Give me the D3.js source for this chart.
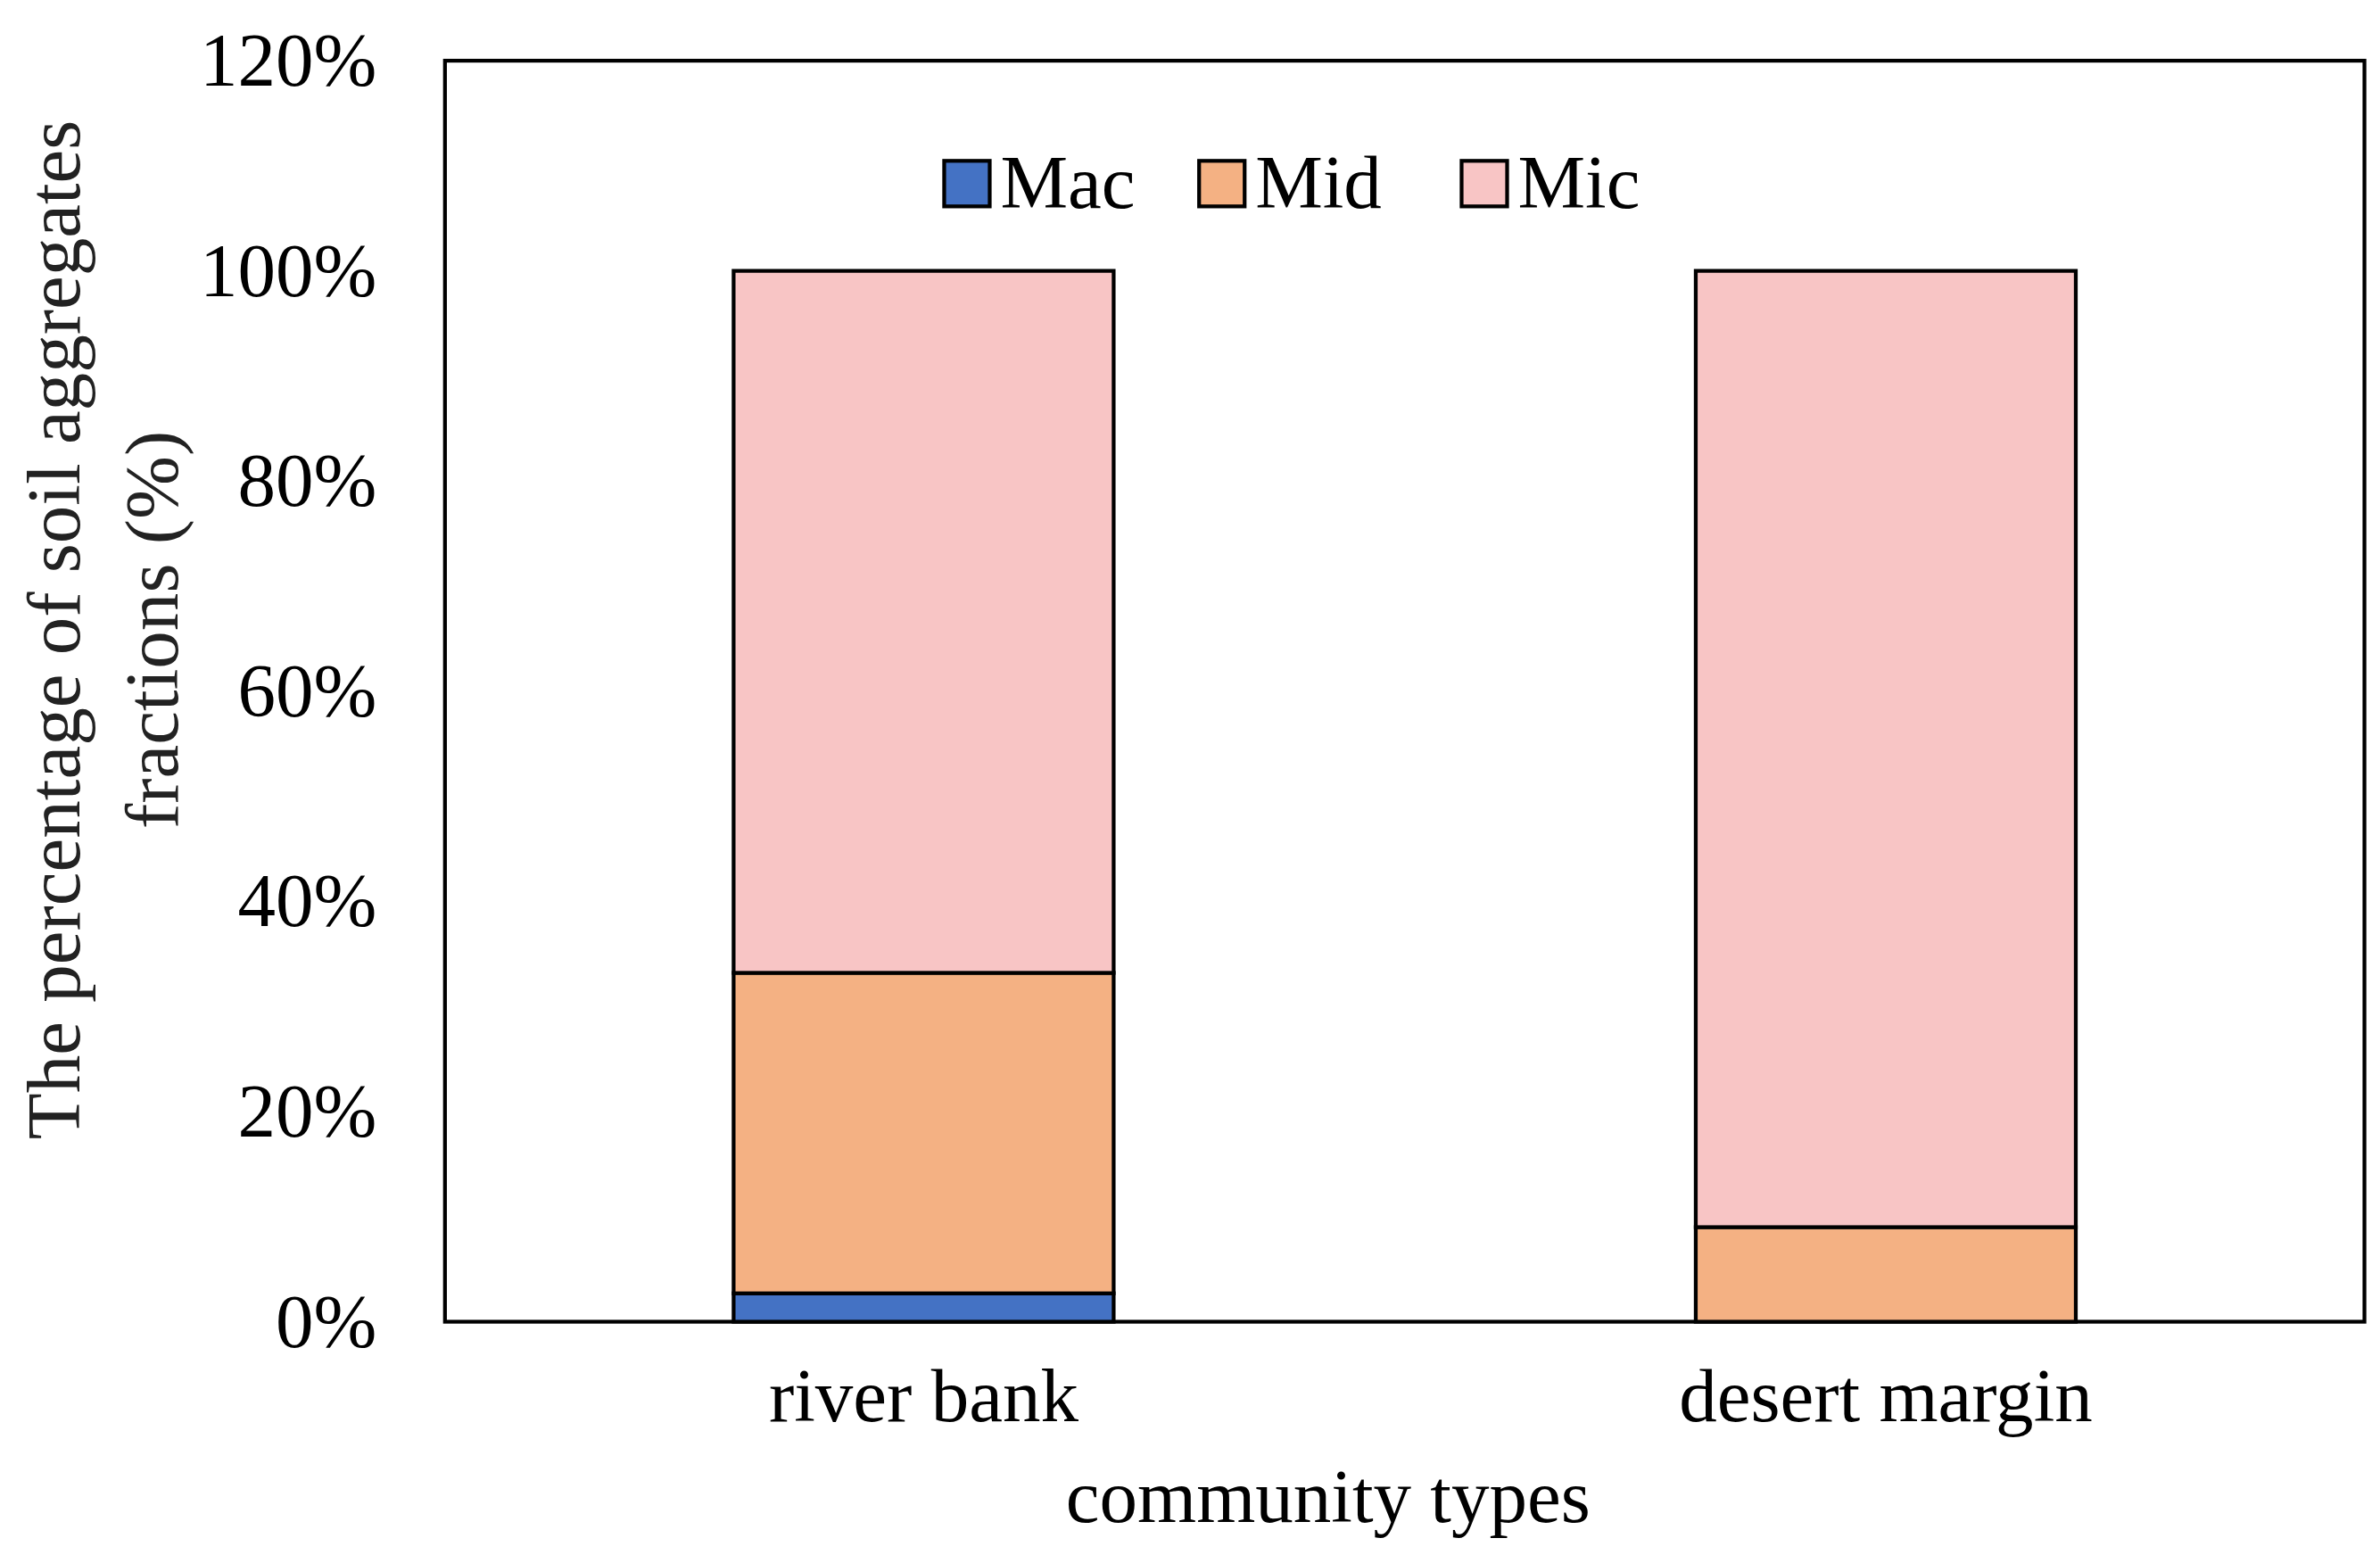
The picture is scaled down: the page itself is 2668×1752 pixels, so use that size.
<!DOCTYPE html>
<html><head><meta charset="utf-8">
<script src="https://cdn.jsdelivr.net/npm/d3@7"></script>
<style>body{margin:0;background:#fff}</style></head>
<body><svg id="c" width="2668" height="1752" viewBox="0 0 1568 1030"></svg>
<script>
const categories = ["river bank", "desert margin"];
const seriesNames = ["Mac", "Mid", "Mic"];
const mac = [2.7, 0];
const mid = [30.5, 9.0];
const mic = [66.8, 91.0];
const yTicks = [0, 20, 40, 60, 80, 100, 120];
const colors = ["#4472C4", "#F4B183", "#F8C5C5"];

const svg = d3.select("#c");
const L = 293, R = 1558, T = 40, B = 871;
const font = "Liberation Serif, Times New Roman, serif";
const x = d3.scaleBand().domain(categories).range([L, R]).paddingInner(0.605).paddingOuter(0.3);
const y = d3.scaleLinear().domain([0, 120]).range([B, T]);

const rows = categories.map((c, i) => ({cat: c, Mac: mac[i], Mid: mid[i], Mic: mic[i]}));
const stack = d3.stack().keys(seriesNames)(rows);

svg.append("rect").attr("x", L).attr("y", T).attr("width", R - L).attr("height", B - T)
  .attr("fill", "none").attr("stroke", "#000").attr("stroke-width", 2.5);

stack.forEach((s, k) => {
  svg.append("g").selectAll("rect").data(s.filter(d => d[1] - d[0] > 0)).join("rect")
    .attr("x", d => x(d.data.cat)).attr("width", x.bandwidth())
    .attr("y", d => y(d[1])).attr("height", d => y(d[0]) - y(d[1]))
    .attr("fill", colors[k]).attr("stroke", "#000").attr("stroke-width", 2.5);
});

const ya = svg.append("g").attr("transform", `translate(${L},0)`)
  .call(d3.axisLeft(y).tickValues(yTicks).tickFormat(d => d + "%").tickSize(0).tickPadding(45));
ya.select(".domain").remove();
ya.selectAll("text").attr("font-family", font).attr("font-size", 50).attr("fill", "#000");

const xa = svg.append("g").attr("transform", `translate(0,${B})`)
  .call(d3.axisBottom(x).tickSize(0).tickPadding(30));
xa.select(".domain").remove();
xa.selectAll("text").attr("font-family", font).attr("font-size", 50).attr("fill", "#000");

svg.append("text").attr("x", 875).attr("y", 1003).attr("text-anchor", "middle")
  .attr("font-family", font).attr("font-size", 50).text("community types");

const yl = svg.append("text").attr("transform", "translate(0,415) rotate(-90)")
  .attr("text-anchor", "middle").attr("font-family", font).attr("font-size", 50).attr("fill", "#222");
yl.append("tspan").attr("x", 0).attr("y", 52).text("The percentage of soil aggregates");
yl.append("tspan").attr("x", 0).attr("y", 117).text("fractions (%)");

const legX = [622, 790, 963];
seriesNames.forEach((n, i) => {
  svg.append("rect").attr("x", legX[i]).attr("y", 106).attr("width", 30).attr("height", 30)
    .attr("fill", colors[i]).attr("stroke", "#000").attr("stroke-width", 2.5);
  svg.append("text").attr("x", legX[i] + 37).attr("y", 137).attr("font-family", font)
    .attr("font-size", 50).text(n);
});
</script></body></html>
